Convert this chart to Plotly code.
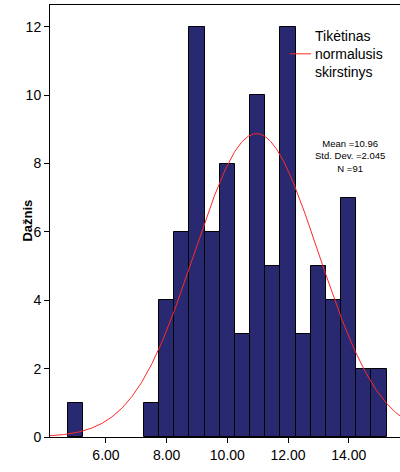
import numpy as np
import plotly.graph_objects as go

# Histogram bins (width 0.5) and observed frequencies
bin_centers = [5.0, 7.5, 8.0, 8.5, 9.0, 9.5, 10.0, 10.5, 11.0, 11.5, 12.0,
               12.5, 13.0, 13.5, 14.0, 14.5, 15.0]
counts = [1, 1, 4, 6, 12, 6, 8, 3, 10, 5, 12, 3, 5, 4, 7, 2, 2]
bin_width = 0.5

# Summary statistics
mean = 10.96
std_dev = 2.045
n_obs = 91

x_ticks = [6, 8, 10, 12, 14]
y_ticks = [0, 2, 4, 6, 8, 10, 12]

FONT = "Liberation Sans, Arial, sans-serif"

# Expected normal curve scaled to counts per bin
xs = np.linspace(4.0, 16.0, 400)
ys = n_obs * bin_width * np.exp(-0.5 * ((xs - mean) / std_dev) ** 2) / (std_dev * np.sqrt(2 * np.pi))

fig = go.Figure()
fig.add_trace(go.Bar(
    x=bin_centers, y=counts, width=bin_width,
    marker=dict(color="rgb(41,41,114)", line=dict(color="black", width=1)),
    showlegend=False, hoverinfo="skip",
))
fig.add_trace(go.Scatter(
    x=xs, y=ys, mode="lines", line=dict(color="rgb(255,40,40)", width=1),
    showlegend=False, hoverinfo="skip",
))

fig.update_layout(
    width=400, height=472,
    margin=dict(l=50, r=0, t=5, b=35),
    paper_bgcolor="white", plot_bgcolor="white",
    font=dict(family=FONT, size=14, color="black"),
    bargap=0,
    xaxis=dict(
        range=[4.155, 15.69], tickvals=x_ticks, tickformat=".2f",
        showgrid=False, zeroline=False, showline=True, linecolor="black", linewidth=1,
        mirror=True, ticks="outside", ticklen=5, tickcolor="black",
        tickfont=dict(size=14),
    ),
    yaxis=dict(
        range=[0, 12.64], tickvals=y_ticks,
        showgrid=False, zeroline=False, showline=True, linecolor="black", linewidth=1,
        ticks="outside", ticklen=5, tickcolor="black",
        tickfont=dict(size=14),
    ),
    shapes=[dict(type="line", xref="paper", yref="paper",
                 x0=0.686, x1=0.746, y0=0.887, y1=0.887,
                 line=dict(color="rgb(255,40,40)", width=1))],
    annotations=[
        dict(text="<b>Dažnis</b>", xref="paper", yref="paper", x=-0.094, y=0.5,
             textangle=-90, showarrow=False, font=dict(size=13)),
        dict(text="Tikėtinas<br>normalusis<br>skirstinys", xref="paper", yref="paper",
             x=0.751, y=0.886, xanchor="left", yanchor="middle", align="left",
             showarrow=False, font=dict(size=14)),
        dict(text=f"Mean ={mean}<br>Std. Dev. ={std_dev}<br>N ={n_obs}",
             xref="paper", yref="paper", x=0.857, y=0.650, xanchor="center",
             yanchor="middle", align="center", showarrow=False, font=dict(size=9.5)),
    ],
)

fig.write_html("out.html")
